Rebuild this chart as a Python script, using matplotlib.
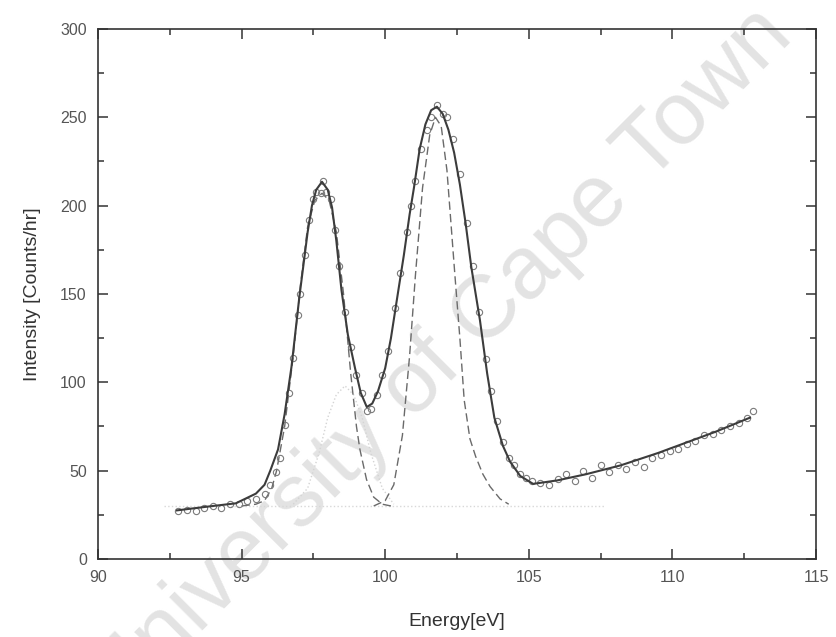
import matplotlib.pyplot as plt
from matplotlib.ticker import MultipleLocator

plt.rcParams['font.family'] = ['Liberation Sans', 'DejaVu Sans']

# measured points (open circles)
data_e = [92.8, 93.1, 93.4, 93.7, 94.0, 94.3, 94.6, 94.9, 95.2, 95.5, 95.8, 96.0,
          96.2, 96.35, 96.5, 96.65, 96.8, 96.95, 97.05, 97.2, 97.35, 97.5, 97.6,
          97.75, 97.85, 97.95, 98.1, 98.25, 98.4, 98.6, 98.8, 99.0, 99.2, 99.35,
          99.5, 99.7, 99.9, 100.1, 100.35, 100.52, 100.75, 100.9, 101.05, 101.25,
          101.45, 101.6, 101.8, 102.0, 102.15, 102.35, 102.6, 102.85, 103.05,
          103.25, 103.5, 103.7, 103.9, 104.1, 104.3, 104.5, 104.7, 104.9, 105.1,
          105.4, 105.7, 106.0, 106.3, 106.6, 106.9, 107.2, 107.5, 107.8, 108.1,
          108.4, 108.7, 109.0, 109.3, 109.6, 109.9, 110.2, 110.5, 110.8, 111.1,
          111.4, 111.7, 112.0, 112.3, 112.6, 112.8]
data_i = [27, 28, 27, 29, 30, 29, 31, 31, 33, 34, 37, 42,
          49, 57, 76, 94, 114, 138, 150, 172, 192, 204, 208,
          207, 214, 208, 204, 186, 166, 140, 120, 104, 94, 84,
          85, 93, 104, 118, 142, 162, 185, 200, 214, 232,
          243, 250, 257, 252, 250, 238, 218, 190, 166,
          140, 113, 95, 78, 66, 57, 53, 48, 46, 44,
          43, 42, 45, 48, 44, 50, 46, 53, 49, 53,
          51, 55, 52, 57, 59, 61, 62, 65, 67, 70,
          71, 73, 75, 77, 80, 84]

# total fit (solid)
fit_e = [92.75, 93.8, 94.8, 95.5, 95.8, 96.0, 96.27, 96.5, 96.74, 97.01, 97.3,
         97.45, 97.6, 97.8, 98.0, 98.15, 98.3, 98.48, 98.7, 98.95, 99.15, 99.36,
         99.55, 99.75, 100.0, 100.2, 100.4, 100.65, 100.85, 101.0, 101.2, 101.4,
         101.6, 101.8, 102.0, 102.2, 102.4, 102.6, 102.8, 103.0, 103.3, 103.55,
         103.8, 104.1, 104.35, 104.7, 105.15, 106.0, 107.0, 108.2, 109.5, 110.5,
         111.5, 112.7]
fit_i = [27.5, 29.6, 31.5, 37, 42, 50, 62, 82, 109, 148, 185,
         200, 209, 213.5, 209, 199, 180, 152, 127, 108, 94, 86,
         88, 95, 108, 125, 146, 172, 195, 210, 232, 246,
         254, 256, 252, 243, 230, 212, 190, 165, 135, 105,
         80, 64, 55, 47, 42.5, 44.5, 48, 53, 60, 66,
         72, 80]

# component peaks (dashed)
peak1_e = [95.0, 95.5, 95.8, 96.05, 96.22, 96.5, 96.8, 97.05, 97.3, 97.55, 97.8,
           98.05, 98.3, 98.55, 98.8, 99.0, 99.12, 99.35, 99.6, 99.9, 100.2]
peak1_i = [30, 31, 33, 40, 50, 75, 115, 155, 188, 203, 207,
           203, 185, 150, 105, 75, 62, 45, 35, 31, 30]
peak2_e = [99.6, 100.0, 100.3, 100.6, 100.85, 101.05, 101.3, 101.55, 101.75,
           101.95, 102.15, 102.43, 102.6, 102.75, 102.95, 103.15, 103.4, 103.65,
           104.0, 104.3]
peak2_i = [30, 33, 42, 70, 115, 160, 210, 240, 250,
           245, 220, 160, 125, 90, 68, 58, 48, 41,
           34, 31]

# small component (dotted) and background
peak3_e = [96.8, 97.3, 97.7, 98.0, 98.3, 98.6, 98.9, 99.2, 99.5, 99.9, 100.3]
peak3_i = [31, 40, 60, 80, 93, 98, 93, 80, 60, 40, 31]
base_e = [92.3, 107.6]
base_i = [30, 30]

fig = plt.figure(figsize=(8.37, 6.37), dpi=100)
ax = fig.add_axes([0.117, 0.1225, 0.858, 0.832])
ax.patch.set_alpha(0)

ax.plot(base_e, base_i, ':', color='#d8d8d8', lw=1.0)
ax.plot(peak3_e, peak3_i, ':', color='#d4d4d4', lw=1.0)
ax.plot(peak1_e, peak1_i, '--', color='#6a6a6a', lw=1.0, dashes=(6, 3))
ax.plot(peak2_e, peak2_i, '--', color='#6a6a6a', lw=1.0, dashes=(6, 3))
ax.plot(data_e, data_i, 'o', mfc='none', mec='#7a7a7a', ms=4.5, mew=0.8)
ax.plot(fit_e, fit_i, '-', color='#3c3c3c', lw=1.5)

ax.set_xlim(90, 115)
ax.set_ylim(0, 300)
ax.xaxis.set_major_locator(MultipleLocator(5))
ax.xaxis.set_minor_locator(MultipleLocator(2.5))
ax.yaxis.set_major_locator(MultipleLocator(50))
ax.yaxis.set_minor_locator(MultipleLocator(25))
ax.tick_params(which='both', direction='in', top=True, right=True,
               color='#333333', width=1.1)
ax.tick_params(which='major', length=7, pad=8, labelsize=11.5, labelcolor='#555555')
ax.tick_params(which='minor', length=4)
for s in ax.spines.values():
    s.set_color('#333333')
    s.set_linewidth(1.2)

ax.set_xlabel('Energy[eV]', fontsize=14, color='#333333', labelpad=20)
ax.set_ylabel('Intensity [Counts/hr]', fontsize=14, color='#333333', labelpad=14)

# watermark
fig.text(0.526, 0.435, 'University of Cape Town', fontsize=64, color='#e3e3e3',
         rotation=45, ha='center', va='center',
         rotation_mode='anchor', zorder=-1)

fig.savefig('out.png', dpi=100)
